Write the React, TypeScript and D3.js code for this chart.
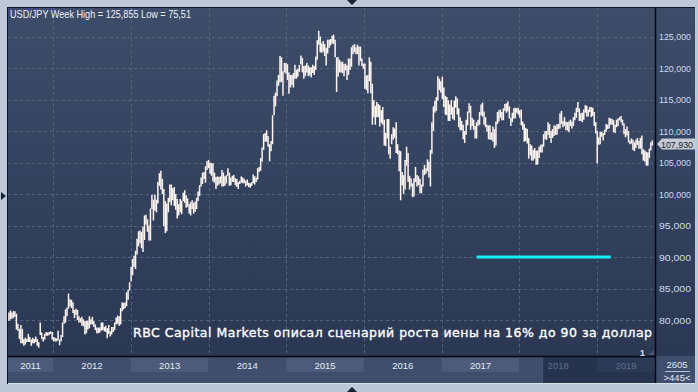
import React from "react";
import * as d3 from "d3";

const title = "USD/JPY Week High = 125,855 Low = 75,51";
const annotation = "RBC Capital Markets описал сценарий роста иены на 16% до 90 за доллар";
const yTicks = [80, 85, 90, 95, 100, 105, 110, 115, 120, 125];
const yearLabels = [2011, 2012, 2013, 2014, 2015, 2016, 2017, 2018, 2019];
const dimYears = [2018, 2019];
const lastPrice = 107.93;
const targetLevel = 90;
const targetFrom = "2017-06-14";
const targetTo = "2019-03-07";
const dimFrom = "2018-04-18";
const footerTop = "2605";
const footerBottom = ">445<";
const pageLabel = "1";

// weekly [high, low], consecutive weeks from the start date (Mondays)
const start2011 = "2011-06-06";
const hl2011 = [
  [81.2, 79.9], [81.5, 80.1], [81.2, 80.2], [81.4, 80.3],
  [81.4, 80.5], [81.0, 78.5], [79.4, 78.3], [78.6, 77.0],
  [79.2, 76.3], [78.6, 76.3], [77.0, 75.9], [77.2, 76.1], [77.0, 76.5],
  [77.8, 76.5], [77.3, 76.5], [76.9, 75.9], [77.2, 76.3],
  [77.0, 76.3], [77.4, 76.5], [77.0, 75.9], [76.5, 75.6], [79.6, 77.6],
  [78.0, 77.0], [77.3, 76.6], [77.8, 76.9], [78.1, 77.5],
  [78.0, 77.5], [78.1, 77.6], [78.2, 77.8], [78.1, 76.9],
];
const start2012 = "2012-01-02";
const hl2012 = [
  [77.3, 76.6], [77.2, 76.6], [77.1, 76.6], [78.3, 76.8], [76.9, 76.0],
  [77.6, 76.6], [79.6, 77.3], [80.6, 79.4], [81.7, 79.6],
  [82.0, 80.6], [84.2, 81.8], [83.3, 82.2], [83.2, 81.9],
  [82.8, 81.1], [81.6, 80.3], [81.8, 80.8], [81.6, 80.0], [80.6, 79.6],
  [80.3, 79.6], [80.5, 79.1], [80.1, 79.0], [79.8, 77.7],
  [79.9, 77.9], [79.9, 78.5], [80.6, 78.7], [80.1, 79.3],
  [80.5, 79.3], [79.8, 78.9], [79.3, 78.4], [78.8, 77.9], [78.8, 77.9],
  [78.8, 78.0], [79.6, 78.3], [79.6, 78.4], [78.9, 78.2],
  [79.1, 78.1], [78.7, 77.1], [79.2, 77.8], [78.2, 77.4],
  [78.9, 77.7], [78.9, 78.1], [79.6, 78.4], [80.4, 79.3], [80.7, 79.4],
  [80.6, 79.1], [81.9, 79.3], [82.8, 81.4], [82.7, 81.7],
  [82.8, 81.9], [84.4, 82.2], [84.8, 83.2], [86.0, 84.7], [88.4, 86.1],
];
const start2013 = "2013-01-07";
const hl2013 = [
  [89.7, 87.1], [90.2, 88.4], [91.0, 88.1], [92.9, 90.4],
  [94.1, 91.7], [94.2, 92.2], [94.0, 91.4], [94.8, 90.8],
  [96.6, 92.7], [96.7, 95.1], [96.0, 94.0], [95.0, 92.6],
  [97.7, 92.6], [99.9, 97.6], [99.1, 95.8], [99.9, 97.4], [99.1, 97.1],
  [101.9, 98.5], [103.3, 101.3], [103.7, 100.7], [102.4, 100.0],
  [100.8, 94.9], [98.9, 93.8], [98.5, 94.1], [99.4, 97.1],
  [101.5, 98.7], [101.5, 98.2], [100.9, 99.0], [101.1, 98.1], [100.0, 97.5],
  [99.2, 96.1], [98.4, 96.6], [99.2, 97.1], [98.9, 96.8],
  [100.2, 98.9], [100.6, 98.6], [99.8, 97.8], [99.3, 98.0], [98.4, 96.9],
  [98.7, 96.6], [99.0, 97.6], [98.6, 96.9], [98.8, 97.2],
  [99.4, 97.6], [100.4, 98.9], [101.4, 99.7], [102.6, 101.2],
  [103.4, 101.6], [103.5, 102.4], [104.4, 101.8], [105.2, 103.8], [105.4, 104.1],
];
const start2014 = "2014-01-06";
const hl2014 = [
  [105.0, 103.2], [104.9, 102.9], [104.9, 102.0], [103.4, 101.8],
  [102.7, 100.8], [102.8, 101.3], [102.7, 101.5], [102.8, 101.7],
  [103.8, 101.2], [103.4, 101.2], [102.8, 101.3], [103.0, 101.7], [104.1, 102.9],
  [103.4, 101.3], [102.6, 101.4], [102.9, 101.9], [103.0, 101.9],
  [102.5, 101.4], [102.4, 101.1], [101.9, 100.8], [102.1, 101.6],
  [102.8, 101.8], [102.6, 101.7], [102.4, 101.7], [102.1, 101.2], [102.3, 101.4],
  [101.8, 101.1], [101.7, 101.0], [101.9, 101.3], [103.1, 101.7],
  [102.8, 101.5], [102.6, 101.9], [104.1, 102.3], [104.3, 103.5],
  [105.7, 103.7], [107.4, 105.1], [109.5, 107.0], [109.7, 108.3], [110.1, 108.3],
  [109.2, 107.5], [107.9, 105.2], [108.4, 106.8], [112.5, 107.9],
  [115.6, 112.5], [116.1, 113.9], [118.0, 115.5], [118.9, 117.2],
  [121.9, 117.7], [121.7, 117.8], [119.5, 115.6], [120.8, 119.3], [120.8, 119.1],
];
const start2015 = "2015-01-05";
const hl2015 = [
  [120.6, 118.1], [119.3, 115.9], [118.9, 116.9], [118.9, 117.3],
  [119.2, 116.9], [120.5, 118.3], [119.7, 118.3], [119.9, 118.6],
  [120.5, 119.4], [122.0, 120.6], [121.6, 119.3], [120.3, 118.3], [120.4, 118.7],
  [120.8, 119.3], [120.4, 118.7], [120.1, 118.8], [120.1, 118.5],
  [120.5, 119.2], [120.3, 118.9], [121.8, 119.7], [124.4, 121.3],
  [125.9, 123.7], [125.0, 122.5], [123.9, 122.4], [124.3, 122.6], [123.8, 121.9],
  [123.2, 120.4], [124.5, 122.3], [124.5, 123.2], [124.6, 123.6],
  [125.1, 123.9], [125.3, 123.8], [124.5, 121.7], [121.7, 116.2], [121.7, 118.6],
  [121.3, 119.3], [121.0, 119.3], [121.0, 119.2], [120.6, 118.7],
  [120.7, 119.6], [120.4, 118.1], [121.5, 118.9], [121.5, 119.7],
  [123.3, 120.2], [123.6, 122.2], [123.8, 122.5], [123.3, 122.2], [123.7, 122.2],
  [123.4, 120.4], [123.4, 121.1], [121.5, 120.3], [120.7, 119.9],
];
const start2016 = "2016-01-04";
const hl2016 = [
  [120.7, 116.7], [118.8, 116.5], [118.9, 116.0], [121.7, 117.9],
  [121.0, 116.0], [117.5, 111.0], [114.9, 112.2], [114.0, 111.0], [114.6, 112.2],
  [114.3, 112.2], [114.1, 110.7], [113.3, 111.3], [113.8, 111.0],
  [111.8, 107.7], [109.7, 107.6], [111.9, 108.8], [111.9, 106.3],
  [107.5, 105.6], [109.5, 107.9], [110.6, 108.6], [110.4, 108.9], [111.4, 106.5],
  [107.9, 106.3], [106.9, 103.6], [106.8, 99.0], [103.5, 101.4],
  [103.0, 100.0], [105.4, 100.7], [107.5, 104.5], [106.5, 101.9],
  [102.9, 100.7], [102.5, 101.2], [101.7, 99.5], [102.5, 99.6], [104.3, 101.9],
  [103.0, 101.2], [102.8, 101.4], [102.4, 100.1], [101.5, 100.1],
  [103.9, 101.2], [104.6, 103.0], [104.1, 103.2], [105.5, 103.6], [105.1, 102.6],
  [107.0, 101.2], [111.4, 106.4], [113.9, 110.0], [114.8, 112.9],
  [115.4, 113.2], [118.7, 114.8], [118.3, 116.5], [117.9, 116.1],
];
const start2017 = "2017-01-02";
const hl2017 = [
  [118.6, 115.1], [116.9, 113.8], [115.6, 112.6], [115.4, 112.5], [114.9, 111.6],
  [114.2, 111.6], [114.9, 112.6], [113.8, 111.9], [114.8, 111.7],
  [115.5, 113.7], [115.2, 112.6], [113.6, 110.6], [112.2, 110.1],
  [111.6, 110.1], [111.0, 108.7], [110.0, 108.1], [111.8, 109.4],
  [113.1, 110.9], [114.4, 112.9], [114.0, 110.2], [112.1, 110.8], [111.8, 110.2],
  [110.8, 108.8], [111.4, 108.8], [111.8, 110.8], [113.0, 111.0],
  [114.2, 112.5], [114.5, 112.3], [113.1, 111.0], [112.2, 110.6], [111.0, 109.9],
  [110.9, 108.7], [110.9, 108.6], [109.8, 108.6], [110.7, 108.3],
  [110.3, 107.3], [111.5, 107.7], [113.0, 111.1], [113.3, 111.5],
  [113.4, 112.1], [113.0, 111.7], [113.6, 111.7], [114.3, 113.2], [114.4, 112.9],
  [114.7, 113.1], [113.9, 112.0], [112.1, 110.8], [112.9, 111.4],
  [113.6, 112.0], [113.7, 112.0], [113.6, 112.9], [113.7, 112.6],
];
const start2018 = "2018-01-01";
const hl2018 = [
  [113.3, 112.1], [113.4, 110.9], [111.5, 110.2], [111.1, 108.3], [110.5, 108.4],
  [110.3, 108.0], [108.9, 105.6], [107.9, 106.1], [107.7, 105.3],
  [107.0, 105.3], [107.3, 105.6], [106.9, 104.6], [106.9, 104.7],
  [107.5, 105.7], [107.8, 106.6], [107.9, 106.6], [109.5, 107.5], [110.0, 108.7],
  [110.0, 108.6], [111.4, 109.4], [111.1, 108.9], [110.0, 108.1],
  [110.3, 108.9], [110.9, 109.2], [110.8, 109.4], [111.1, 109.4],
  [111.1, 110.3], [112.8, 110.4], [113.2, 111.1], [111.6, 110.6], [112.2, 110.8],
  [111.5, 110.1], [111.4, 110.1], [111.5, 109.8], [111.8, 110.8],
  [111.5, 110.4], [112.2, 110.8], [112.9, 111.7], [113.7, 112.1],
  [114.6, 113.0], [113.6, 111.6], [112.8, 111.6], [112.9, 111.4], [113.4, 111.8],
  [114.1, 112.9], [114.0, 112.3], [113.4, 112.3], [113.8, 113.0],
  [113.8, 112.2], [113.7, 112.4], [113.0, 110.8], [111.4, 109.6],
];
const start2019 = "2018-12-31";
const hl2019 = [
  [110.0, 104.9],
  [109.0, 107.8], [109.9, 107.9], [109.9, 109.1], [109.7, 108.5],
  [110.2, 109.4], [111.1, 109.9], [111.0, 110.3], [112.1, 110.4],
  [112.0, 111.0], [111.9, 111.0], [111.7, 109.8], [111.0, 109.7],
  [111.8, 110.6], [112.0, 110.8], [112.2, 111.7], [112.4, 111.4], [111.8, 110.9],
  [111.2, 109.5], [110.3, 109.0], [110.7, 109.3], [110.0, 108.2],
  [108.5, 107.9], [108.8, 108.0], [108.6, 107.0], [108.2, 106.8],
  [108.6, 107.3], [108.9, 107.8], [108.4, 107.2], [108.9, 107.2], [109.3, 106.3],
  [107.1, 105.3], [106.9, 105.1], [106.7, 104.5], [106.6, 104.5],
  [107.2, 105.7], [108.2, 106.9], [108.5, 107.7],
];

const blocks: [string, number[][]][] = [
  [start2011, hl2011], [start2012, hl2012], [start2013, hl2013],
  [start2014, hl2014], [start2015, hl2015], [start2016, hl2016],
  [start2017, hl2017], [start2018, hl2018], [start2019, hl2019],
];

const parse = d3.utcParse("%Y-%m-%d");
const bars = blocks.flatMap(([s, arr]) => {
  const d0 = parse(s) as Date;
  return arr.map(([h, l], i) => ({ date: d3.utcDay.offset(d0, i * 7 + 2), high: h, low: l }));
});

const locale = d3.formatLocale({ decimal: ",", thousands: " ", grouping: [3], currency: ["", ""] });
const fmt = locale.format(".3f");

const PL = 8, PR = 655, PT = 8, PB = 356;

export default function App() {
  const x = d3.scaleUtc()
    .domain([Date.UTC(2012, 0, 1), Date.UTC(2019, 0, 1)])
    .range([53, 597]);
  const y = d3.scaleLinear().domain([80, 125]).range([320, 36.5]);
  const yearX = (yr: number) => x(new Date(Date.UTC(yr, 0, 1)));
  const dimX = x(parse(dimFrom) as Date);

  const font = "'Liberation Sans', Arial, sans-serif";
  const py = y(lastPrice);

  return (
    <svg width={698} height={392} style={{ position: "fixed", left: 0, top: 0 }}>
      <defs>
        <linearGradient id="bg" x1="0" y1="0" x2="0" y2="1">
          <stop offset="0" stopColor="#3d4c69" />
          <stop offset="1" stopColor="#2a3854" />
        </linearGradient>
        <clipPath id="plotClip">
          <rect x={PL} y={PT} width={PR - PL} height={PB - PT} />
        </clipPath>
      </defs>
      <rect x={0} y={0} width={698} height={392} fill="#bcc8d8" />
      <rect x={PL} y={PT} width={695 - PL} height={383 - PT} fill="#3e4e6c" />
      <rect x={PL} y={PT} width={PR - PL} height={PB - PT} fill="url(#bg)" />
      <rect x={PR} y={PT} width={695 - PR} height={PB - PT} fill="url(#bg)" />

      {/* x-axis bands */}
      {yearLabels.map((yr, i) => {
        const a = Math.max(PL, yearX(yr));
        const b = Math.min(PR, yearX(yr + 1));
        return (
          <rect key={"band" + yr} x={a} y={358} width={b - a} height={14}
            fill={i % 2 === 0 ? "#4b5b79" : "#3e4e6c"} />
        );
      })}
      <rect x={dimX} y={357} width={PR - dimX} height={26} fill="#25334e" />
      <rect x={yearX(2019)} y={358} width={PR - yearX(2019)} height={14} fill="#2b3956" />
      <line x1={dimX + 0.5} x2={dimX + 0.5} y1={357} y2={383} stroke="#4a5872" />
      {yearLabels.map((yr) => {
        const a = Math.max(PL, yearX(yr));
        const b = Math.min(PR, yearX(yr + 1));
        return (
          <text key={"yl" + yr} x={(a + b) / 2} y={369} textAnchor="middle"
            fontFamily={font} fontSize={9.5}
            fill={dimYears.includes(yr) ? "#5f6f8a" : "#e6edf7"}>{yr}</text>
        );
      })}

      {/* gridlines */}
      <g stroke="#55647f" strokeWidth={1} strokeDasharray="3,3">
        {yTicks.map((t) => (
          <line key={"hg" + t} x1={PL} x2={PR} y1={Math.round(y(t)) + 0.5} y2={Math.round(y(t)) + 0.5} />
        ))}
        {yearLabels.slice(1).map((yr) => (
          <line key={"vg" + yr} x1={Math.round(yearX(yr)) + 0.5} x2={Math.round(yearX(yr)) + 0.5} y1={PT} y2={PB} />
        ))}
      </g>

      {/* bars */}
      <g clipPath="url(#plotClip)">
        {bars.map((d, i) => (
          <line key={i} x1={x(d.date)} x2={x(d.date)} y1={y(d.high)} y2={y(d.low)}
            stroke="#fff6f0" strokeWidth={1.5} />
        ))}
      </g>

      {/* target line */}
      <line x1={x(parse(targetFrom) as Date)} x2={x(parse(targetTo) as Date)}
        y1={y(targetLevel)} y2={y(targetLevel)} stroke="#10f2fa" strokeWidth={3} />

      {/* borders */}
      <line x1={7} x2={695} y1={7.5} y2={7.5} stroke="#0e1626" />
      <line x1={7.5} x2={7.5} y1={7} y2={384} stroke="#0e1626" />
      <line x1={PL} x2={PR} y1={PB + 0.5} y2={PB + 0.5} stroke="#05080f" strokeWidth={1.5} />
      <line x1={PR + 0.5} x2={PR + 0.5} y1={PT} y2={383} stroke="#05080f" strokeWidth={1.5} />
      <line x1={PL} x2={695} y1={383.5} y2={383.5} stroke="#d8e0ea" />

      {/* y labels */}
      {yTicks.map((t) => (
        <text key={"yt" + t} x={659} y={y(t) + 3.5} fontFamily={font} fontSize={9.5}
          fill="#cfdbee" textLength={32} lengthAdjust="spacingAndGlyphs">{fmt(t)}</text>
      ))}

      {/* last price tag */}
      <polygon points={`657,${py} 662,${py - 5.5} 695,${py - 5.5} 695,${py + 5.5} 662,${py + 5.5}`}
        fill="#c6cbd4" />
      <text x={661} y={py + 3.5} fontFamily={font} fontSize={9.5} fill="#1b2232"
        textLength={32} lengthAdjust="spacingAndGlyphs">{fmt(lastPrice)}</text>

      {/* title */}
      <text x={10} y={18} fontFamily={font} fontSize={10.5} fill="#eef2f8"
        textLength={181} lengthAdjust="spacingAndGlyphs">{title}</text>

      {/* annotation */}
      <text x={133} y={336.5} fontFamily="'DejaVu Sans', sans-serif" fontSize={12.5}
        fill="#ffffff" stroke="#ffffff" strokeWidth={0.35}
        textLength={519} lengthAdjust="spacing">{annotation}</text>

      {/* page marker */}
      <text x={642.5} y={356} textAnchor="middle" fontFamily={font} fontSize={9.5} fontWeight="bold" fill="#cfdbee">{pageLabel}</text>
      <polygon points="648,355 654,355 654,350" fill="#4a5670" />

      {/* footer cell */}
      <text x={677} y={367.5} textAnchor="middle" fontFamily={font} fontSize={9.5} fill="#e2e9f4">{footerTop}</text>
      <line x1={665} x2={690} y1={371.5} y2={371.5} stroke="#b8c4d6" />
      <text x={677} y={380.5} textAnchor="middle" fontFamily={font} fontSize={9.5} fill="#e2e9f4">{footerBottom}</text>

      {/* navigation triangles */}
      <polygon points="347,0 357,0 352,5" fill="#16223a" />
      <polygon points="347,392 357,392 352,387" fill="#16223a" />
      <polygon points="1,192 1,200 6,196" fill="#16223a" />
    </svg>
  );
}
